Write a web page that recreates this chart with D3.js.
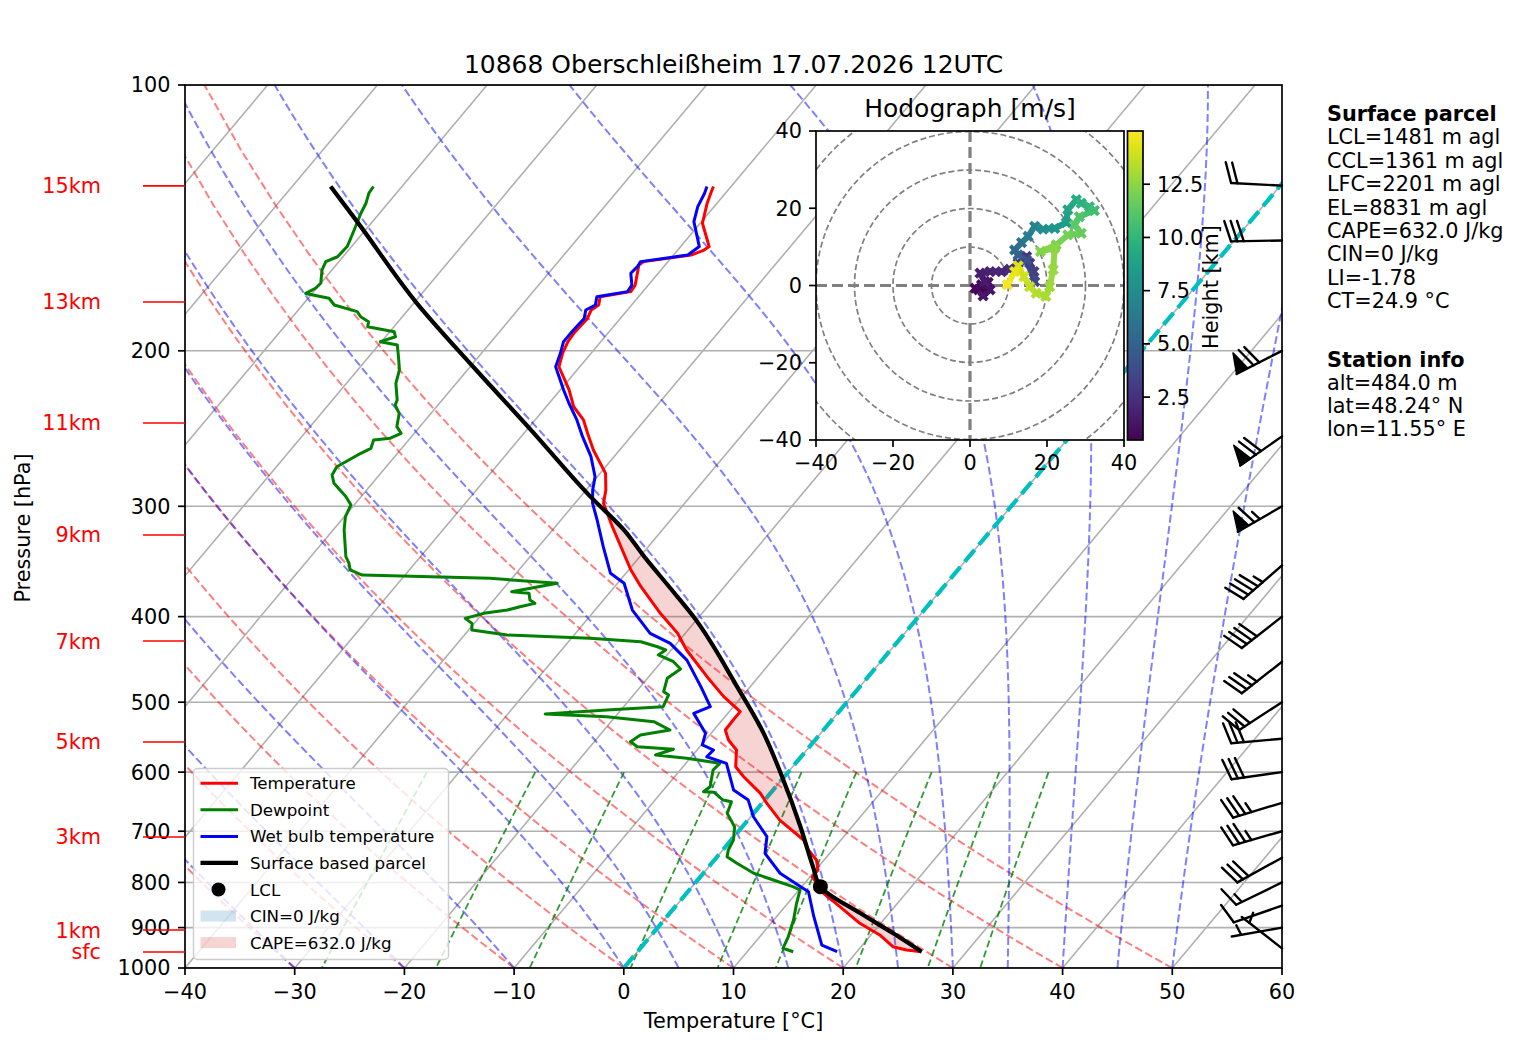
<!DOCTYPE html>
<html>
<head>
<meta charset="utf-8">
<script src="https://cdn.jsdelivr.net/npm/d3@7"></script>
<style>
  body { margin: 0; background: #fff; }
  svg { font-family: "DejaVu Sans", sans-serif; }
</style>
</head>
<body>
<svg width="1517" height="1054"></svg>
<script>
// ---- sounding 10868, levels as [pressure hPa, value degC] ----
var temperature = [
  [130.3,-51.6],[132.1,-51.4],[136.1,-50.9],[143.4,-49.8],[152.4,-47.4],[153.8,-47.6],[155.8,-48.4],
  [158.5,-52.2],[159.9,-52.4],[163.4,-51.9],[168.5,-51.2],[171.4,-51.1],[173.7,-53.5],[177.5,-53.0],
  [179.8,-53.3],[183.8,-53.0],[191.1,-53.1],[195.3,-53.0],[201.3,-52.6],[208.5,-51.9],[221.5,-49.2],
  [231.4,-47.5],[239.5,-45.6],[248.0,-44.2],[259.0,-42.4],[275.3,-39.5],[287.5,-38.2],[297.6,-37.4],
  [316.4,-34.8],[354.2,-29.8],[370.0,-27.6],[396.6,-23.8],[417.8,-20.7],[436.4,-18.6],[467.8,-14.7],
  [492.8,-11.65],[512.5,-9.0],[523.7,-9.0],[537.6,-8.95],[551.8,-7.9],[566.4,-6.4],[591.6,-5.2],
  [607.3,-3.7],[634.2,-0.9],[651.0,0.45],[679.9,2.9],[716.2,6.6],[735.1,7.8],[754.5,9.3],
  [774.4,10.2],[788.1,10.2],[823.0,12.5],[852.1,15.0],[890.0,18.1],[917.4,20.8],[945.9,22.9],
  [954.1,24.4],[958.4,25.9]
];

var dewpoint = [
  [130.3,-82.6],[132.6,-82.5],[136.1,-82.0],[139.7,-81.7],[147.2,-80.9],[152.4,-80.4],[156.5,-80.5],
  [158.5,-81.2],[162.0,-80.9],[167.7,-80.0],[169.9,-80.1],[172.2,-80.6],[174.4,-78.1],[177.5,-77.1],
  [180.6,-74.5],[183.0,-73.8],[185.4,-72.7],[187.8,-72.4],[190.3,-69.6],[192.8,-69.1],[195.3,-70.1],
  [197.0,-68.3],[203.1,-67.3],[210.2,-66.2],[217.7,-65.5],[227.4,-64.1],[230.4,-63.9],[235.4,-62.9],
  [243.7,-62.1],[248.0,-61.2],[251.2,-61.8],[252.3,-63.2],[257.9,-62.8],[262.4,-63.5],[270.6,-64.5],
  [276.5,-64.3],[282.5,-63.5],[292.5,-61.4],[298.9,-60.3],[308.2,-59.9],[319.1,-59.0],[342.1,-56.8],
  [348.1,-56.0],[354.2,-55.4],[358.9,-53.9],[362.0,-42.0],[366.7,-35.5],[374.9,-39.0],[376.4,-37.3],
  [383.1,-36.7],[386.4,-36.0],[389.8,-37.1],[393.2,-38.0],[396.6,-39.9],[401.8,-41.2],[407.1,-40.2],
  [414.3,-39.7],[419.7,-36.1],[423.3,-28.3],[427.1,-23.4],[432.7,-21.5],[436.4,-20.5],[442.1,-20.8],
  [449.9,-18.9],[458.5,-17.7],[469.8,-18.2],[486.5,-17.5],[490.7,-16.8],[505.9,-16.4],[510.3,-21.3],
  [515.6,-26.6],[519.3,-20.8],[526.1,-16.1],[537.6,-14.0],[544.7,-16.3],[554.3,-16.7],[561.5,-15.7],
  [565.3,-12.2],[573.8,-13.4],[578.8,-10.3],[586.4,-6.9],[596.8,-7.0],[623.4,-6.0],[631.6,-6.2],
  [632.5,-5.2],[645.4,-3.8],[648.3,-2.9],[668.2,-2.4],[691.9,-0.7],[716.2,0.2],[735.1,0.5],
  [748.1,0.9],[761.1,2.3],[781.1,4.6],[794.9,6.9],[808.9,9.2],[815.9,10.1],[844.7,10.8],
  [882.4,11.8],[921.5,12.6],[949.9,13.0],[958.4,14.2]
];

var wetBulb = [
  [130.3,-52.2],[132.6,-51.9],[137.3,-51.5],[142.8,-50.7],[152.4,-48.3],[155.8,-48.7],[158.5,-52.5],
  [160.6,-52.4],[163.4,-52.5],[168.5,-51.5],[171.4,-51.4],[173.7,-53.8],[177.5,-53.3],[179.8,-53.8],
  [183.8,-53.3],[191.1,-53.4],[195.3,-53.4],[201.3,-52.8],[208.5,-52.2],[221.5,-49.7],[229.3,-48.2],
  [239.5,-46.2],[250.2,-44.4],[263.6,-42.1],[277.7,-40.2],[287.5,-39.4],[297.6,-38.4],[310.9,-36.7],
  [333.3,-34.1],[357.3,-31.4],[366.7,-29.4],[393.2,-26.6],[417.8,-23.2],[428.9,-20.6],[448.0,-17.8],
  [480.1,-14.5],[505.9,-12.1],[514.8,-13.1],[542.3,-10.5],[559.0,-9.9],[566.4,-8.5],[576.4,-8.6],
  [586.4,-6.3],[628.8,-3.6],[645.4,-1.5],[674.1,0.25],[710.0,3.0],[741.5,4.1],[781.1,7.0],
  [808.9,9.9],[819.6,11.0],[874.8,13.4],[942.0,16.3],[958.4,18.2]
];

var parcel = [
  [958.4,25.9],[913.5,21.9],[867.1,17.4],[808.9,11.7],[767.9,9.5],[691.9,5.3],[607.3,-0.2],
  [542.3,-5.2],[480.1,-11.2],[400.2,-20.5],[371.5,-24.8],[342.1,-29.6],[319.1,-33.5],[292.5,-39.1],
  [245.9,-49.6],[208.9,-59.6],[176.7,-69.7],[142.8,-81.4],[130.3,-86.5]
];
var lcl = [808.9, 11.7];

// ---- wind barbs (kt, deg) ----
var barbPressure = [130,150,200,250,300,350,400,450,500,550,600,650,700,750,800,850,900,950];
var barbSpeed = [20,30,70,70,65,45,40,35,30,30,30,35,35,30,15,10,5,5];
var barbDirection = [273,269,243,235,240,229,232,232,237,265,262,253,254,241,244,251,260,308];

// ---- hodograph (km, m/s) ----
var hodoHeight = [0.48,0.6,0.75,0.9,1.05,1.2,1.35,1.5,1.65,1.85,2.05,2.25,2.5,2.75,3.0,3.3,3.6,4.2,4.8,
  5.4,6.0,6.6,7.1,7.6,8.1,8.6,9.0,9.4,9.8,10.2,10.6,11.0,11.3,11.6,11.9,12.1,12.3,12.5,12.7,12.9,
  13.1,13.3,13.6,13.9,14.2,14.5,14.8];
var hodoU = [3.4,2.2,1.3,3.0,4.7,5.2,3.4,3.9,2.6,5.2,8.2,10.3,12.5,14.7,15.5,16.6,16.8,14.7,12.5,
  11.6,13.4,15.1,16.8,19.0,22.0,25.0,25.4,27.6,28.9,31.0,32.3,28.4,27.2,28.9,25.4,22.4,18.3,22.0,21.6,20.7,
  19.7,17.2,15.5,14.0,12.5,11.6,9.7];
var hodoV = [-1.6,-1.1,-0.7,0.2,0.8,-1.1,-2.7,1.0,3.2,3.6,3.6,4.2,5.8,7.5,5.8,3.6,1.0,6.6,7.9,
  9.2,11.1,12.7,15.3,14.6,14.8,16.3,19.6,22.2,21.3,20.4,19.4,17.8,15.7,13.5,13.1,10.5,8.8,9.7,4.1,-0.3,
  -2.8,-2.0,-0.3,2.3,5.1,3.6,0.2];

// ---- labels ----
var heightLabels = ["15km","13km","11km","9km","7km","5km","3km","1km","sfc"];
var heightPressure = [130.1,176.1,241.4,323.3,426.3,554.7,710.6,905.7,959.1];
var pressureTicks = [100,200,300,400,500,600,700,800,900,1000];
var tempTicks = [-40,-30,-20,-10,0,10,20,30,40,50,60];
var hodoTicks = [-40,-20,0,20,40];
var heightTicks = [2.5,5.0,7.5,10.0,12.5];
var parcelInfo = ["LCL=1481 m agl","CCL=1361 m agl","LFC=2201 m agl","EL=8831 m agl",
  "CAPE=632.0 J/kg","CIN=0 J/kg","LI=-1.78","CT=24.9 °C"];
var stationInfo = ["alt=484.0 m","lat=48.24° N","lon=11.55° E"];
var legendLabels = ["Temperature","Dewpoint","Wet bulb temperature","Surface based parcel",
  "LCL","CIN=0 J/kg","CAPE=632.0 J/kg"];
var title = "10868 Oberschleißheim 17.07.2026 12UTC";

// reference line sets
var dryT0 = d3.range(-40, 60, 10);
var moistT0 = [-40,-30,-20,-10,0,5,10,15,20,25,30,35,40,45,50];
var mixingRatios = [0.0004,0.001,0.002,0.004,0.007,0.01,0.016,0.024,0.032];

// ---------------------------------------------------------------
var svg = d3.select("svg");
var plotL = 185, plotR = 1282, plotT = 85, plotB = 968;
var fs = 20.8;

var x = d3.scaleLinear().domain([-40, 60]).range([plotL, plotR]);
var y = d3.scaleLog().domain([1000, 100]).range([plotB, plotT]);
var skew = Math.tan(40 * Math.PI / 180);

function px(t, p) { return x(t) + skew * (plotB - y(p)); }
function fmt(v) { return (v < 0 ? "\u2212" : "") + Math.abs(v); }

var skewLine = d3.line().x(function (d) { return px(d[1], d[0]); }).y(function (d) { return y(d[0]); });

var defs = svg.append("defs");
defs.append("clipPath").attr("id", "plotClip").append("rect")
  .attr("x", plotL).attr("y", plotT).attr("width", plotR - plotL).attr("height", plotB - plotT);

var plot = svg.append("g").attr("clip-path", "url(#plotClip)");

// grid: isotherms and isobars
d3.range(-140, 61, 10).forEach(function (t) {
  plot.append("path").attr("d", skewLine([[1000, t], [100, t]]))
    .attr("stroke", "#b0b0b0").attr("stroke-width", 1.6).attr("fill", "none");
});
pressureTicks.forEach(function (p) {
  plot.append("line").attr("x1", plotL).attr("x2", plotR).attr("y1", y(p)).attr("y2", y(p))
    .attr("stroke", "#b0b0b0").attr("stroke-width", 1.6);
});

// dry adiabats
var adiabatP = d3.range(50).map(function (i) { return 1000 - i * 900 / 49; });
dryT0.forEach(function (t0) {
  var pts = adiabatP.map(function (p) { return [p, (t0 + 273.15) * Math.pow(p / 1000, 0.2857) - 273.15]; });
  plot.append("path").attr("d", skewLine(pts)).attr("fill", "none")
    .attr("stroke", "red").attr("stroke-opacity", 0.5).attr("stroke-width", 2).attr("stroke-dasharray", "8,3.5");
});

// moist adiabats
var Rd = 287.04749, Cp = 1004.6662, Lv = 2.50084e6, eps = 0.622;
function moistLapse(p, tK) {
  var es = 6.112 * Math.exp(17.67 * (tK - 273.15) / (tK - 29.65));
  var rs = eps * es / (p - es);
  return (Rd * tK + Lv * rs) / (Cp + Lv * Lv * rs * eps / (Rd * tK * tK)) / p;
}
function moistAdiabat(t0) {
  var p = 1000, tK = t0 + 273.15, dp = -5, pts = [[p, t0]];
  while (p > 100) {
    var k1 = moistLapse(p, tK),
        k2 = moistLapse(p + dp / 2, tK + dp / 2 * k1),
        k3 = moistLapse(p + dp / 2, tK + dp / 2 * k2),
        k4 = moistLapse(p + dp, tK + dp * k3);
    tK += dp * (k1 + 2 * k2 + 2 * k3 + k4) / 6;
    p += dp;
    pts.push([p, tK - 273.15]);
  }
  return pts;
}
moistT0.forEach(function (t0) {
  plot.append("path").attr("d", skewLine(moistAdiabat(t0))).attr("fill", "none")
    .attr("stroke", "blue").attr("stroke-opacity", 0.5).attr("stroke-width", 2).attr("stroke-dasharray", "8,3.5");
});

// mixing ratio lines
mixingRatios.forEach(function (w) {
  var pts = d3.range(600, 1001, 10).map(function (p) {
    var e = p * w / (eps + w), l = Math.log(e / 6.112);
    return [p, 243.5 * l / (17.67 - l)];
  });
  plot.append("path").attr("d", skewLine(pts)).attr("fill", "none")
    .attr("stroke", "green").attr("stroke-opacity", 0.8).attr("stroke-width", 1.8).attr("stroke-dasharray", "7,3.5");
});

// 0 degC isotherm
plot.append("path").attr("d", skewLine([[1000, 0], [100, 0]])).attr("fill", "none")
  .attr("stroke", "#00bfbf").attr("stroke-width", 4.2).attr("stroke-dasharray", "15.4,6.7");

// CAPE shading
function interpProfile(prof, p) {
  for (var i = 0; i < prof.length - 1; i++) {
    var a = prof[i], b = prof[i + 1];
    if ((p <= a[0] && p >= b[0]) || (p >= a[0] && p <= b[0])) {
      if (a[0] === b[0]) return b[1];
      var f = (Math.log(p) - Math.log(a[0])) / (Math.log(b[0]) - Math.log(a[0]));
      return a[1] + f * (b[1] - a[1]);
    }
  }
  return NaN;
}
var fillP = d3.range(131, 958, 1).concat(temperature.map(function (d) { return d[0]; }),
  parcel.map(function (d) { return d[0]; }))
  .filter(function (p) { return p >= 130.3 && p <= 958.4; })
  .sort(function (a, b) { return b - a; });
var capeArea = d3.area()
  .y(function (p) { return y(p); })
  .x0(function (p) { return px(interpProfile(temperature, p), p); })
  .x1(function (p) { return px(Math.max(interpProfile(temperature, p), interpProfile(parcel, p)), p); });
plot.append("path").attr("d", capeArea(fillP)).attr("fill", "#d62728").attr("fill-opacity", 0.2);

// profiles
[[temperature, "red"], [dewpoint, "green"], [wetBulb, "blue"]].forEach(function (s) {
  plot.append("path").attr("d", skewLine(s[0])).attr("fill", "none").attr("stroke", s[1])
    .attr("stroke-width", 3).attr("stroke-linejoin", "round");
});
plot.append("path").attr("d", skewLine.curve(d3.curveMonotoneY)(parcel)).attr("fill", "none")
  .attr("stroke", "black").attr("stroke-width", 4.2);
skewLine.curve(d3.curveLinear);
plot.append("circle").attr("cx", px(lcl[1], lcl[0])).attr("cy", y(lcl[0])).attr("r", 7.5).attr("fill", "black");

// wind barbs
function drawBarb(g, ax, ay, speed, dir) {
  var L = 51, sp = 0.125 * L, ht = 0.4 * L, wd = 0.25 * L;
  var r = dir * Math.PI / 180, dx = Math.sin(r), dy = -Math.cos(r), nx = -dy, ny = dx;
  function pt(t, h) { return [ax + dx * t + nx * h, ay + dy * t + ny * h]; }
  var s = Math.round(speed / 5) * 5,
      flags = Math.floor(s / 50), rem = s - flags * 50,
      full = Math.floor(rem / 10), half = (rem - full * 10) >= 5;
  var ln = d3.line();
  function seg(a, b) {
    g.append("path").attr("d", ln([a, b])).attr("stroke", "black").attr("stroke-width", 2.4)
      .attr("fill", "none").attr("stroke-linecap", "round");
  }
  seg(pt(0, 0), pt(L, 0));
  var off = L;
  for (var i = 0; i < flags; i++) {
    if (off !== L) off += sp / 2;
    g.append("path").attr("d", ln([pt(off, 0), pt(off - wd / 2, ht), pt(off - wd, 0)]) + "Z")
      .attr("fill", "black").attr("stroke", "black").attr("stroke-width", 1.5).attr("stroke-linejoin", "round");
    off -= wd + sp;
  }
  for (var j = 0; j < full; j++) {
    seg(pt(off, 0), pt(off + wd / 2, ht));
    off -= sp;
  }
  if (half) {
    if (off === L) off -= 1.5 * sp;
    seg(pt(off, 0), pt(off + wd / 4, ht / 2));
  }
}
var barbs = svg.append("g");
barbPressure.forEach(function (p, i) {
  drawBarb(barbs, plotR, y(p), barbSpeed[i], barbDirection[i]);
});

// axes frame and ticks
svg.append("rect").attr("x", plotL).attr("y", plotT).attr("width", plotR - plotL).attr("height", plotB - plotT)
  .attr("fill", "none").attr("stroke", "#000").attr("stroke-width", 1.7);
var axesG = svg.append("g").attr("font-size", fs).attr("fill", "#000");
pressureTicks.forEach(function (p) {
  axesG.append("line").attr("x1", plotL - 7).attr("x2", plotL).attr("y1", y(p)).attr("y2", y(p))
    .attr("stroke", "#000").attr("stroke-width", 1.7);
  axesG.append("text").attr("x", plotL - 14.5).attr("y", y(p)).attr("dy", "0.36em")
    .attr("text-anchor", "end").text(p);
});
tempTicks.forEach(function (t) {
  axesG.append("line").attr("x1", x(t)).attr("x2", x(t)).attr("y1", plotB).attr("y2", plotB + 7)
    .attr("stroke", "#000").attr("stroke-width", 1.7);
  axesG.append("text").attr("x", x(t)).attr("y", plotB + 31).attr("text-anchor", "middle").text(fmt(t));
});
axesG.append("text").attr("x", (plotL + plotR) / 2).attr("y", 1028).attr("text-anchor", "middle")
  .text("Temperature [°C]");
axesG.append("text").attr("transform", "translate(30,528) rotate(-90)").attr("text-anchor", "middle")
  .text("Pressure [hPa]");
svg.append("text").attr("x", (plotL + plotR) / 2).attr("y", 73).attr("text-anchor", "middle")
  .attr("font-size", 25).text(title);

// height labels
heightLabels.forEach(function (lab, i) {
  var yy = y(heightPressure[i]);
  svg.append("line").attr("x1", 143).attr("x2", plotL).attr("y1", yy).attr("y2", yy)
    .attr("stroke", "red").attr("stroke-width", 1.6);
  svg.append("text").attr("x", 101).attr("y", yy).attr("dy", "0.36em").attr("text-anchor", "end")
    .attr("font-size", fs).attr("fill", "red").text(lab);
});

// legend
var lg = svg.append("g").attr("font-size", 16.7);
lg.append("rect").attr("x", 193.5).attr("y", 768.5).attr("width", 255).attr("height", 191).attr("rx", 4)
  .attr("fill", "white").attr("fill-opacity", 0.8).attr("stroke", "#cccccc").attr("stroke-width", 1.4);
var legendStyle = [
  { type: "line", color: "red", w: 3 }, { type: "line", color: "green", w: 3 },
  { type: "line", color: "blue", w: 3 }, { type: "line", color: "black", w: 4.2 },
  { type: "dot" }, { type: "patch", color: "#1f77b4" }, { type: "patch", color: "#d62728" }
];
legendLabels.forEach(function (lab, i) {
  var yy = 783.3 + i * 26.55, st = legendStyle[i];
  if (st.type === "line") {
    lg.append("line").attr("x1", 200.5).attr("x2", 238).attr("y1", yy).attr("y2", yy)
      .attr("stroke", st.color).attr("stroke-width", st.w);
  } else if (st.type === "dot") {
    lg.append("circle").attr("cx", 218.5).attr("cy", yy).attr("r", 7).attr("fill", "black");
  } else {
    lg.append("rect").attr("x", 200.5).attr("y", yy - 5.5).attr("width", 35.5).attr("height", 11)
      .attr("fill", st.color).attr("fill-opacity", 0.2);
  }
  lg.append("text").attr("x", 250).attr("y", yy).attr("dy", "0.36em").text(lab);
});

// info text
var info = svg.append("g").attr("font-size", fs);
info.append("text").attr("x", 1327).attr("y", 120.7).attr("font-weight", "bold").text("Surface parcel");
parcelInfo.forEach(function (t, i) {
  info.append("text").attr("x", 1327).attr("y", 144.2 + i * 23.45).text(t);
});
info.append("text").attr("x", 1327).attr("y", 366.7).attr("font-weight", "bold").text("Station info");
stationInfo.forEach(function (t, i) {
  info.append("text").attr("x", 1327).attr("y", 390 + i * 23.1).text(t);
});

// ---- hodograph inset ----
var hL = 816, hR = 1124, hT = 131, hB = 440;
var hx = d3.scaleLinear().domain([-40, 40]).range([hL, hR]);
var hy = d3.scaleLinear().domain([-40, 40]).range([hB, hT]);
var hColor = d3.scaleSequential(d3.interpolateViridis).domain([0.484, 15.0]);

defs.append("clipPath").attr("id", "hodoClip").append("rect")
  .attr("x", hL).attr("y", hT).attr("width", hR - hL).attr("height", hB - hT);
var hodo = svg.append("g");
hodo.append("rect").attr("x", hL).attr("y", hT).attr("width", hR - hL).attr("height", hB - hT).attr("fill", "white");
var hodoIn = hodo.append("g").attr("clip-path", "url(#hodoClip)");
[10, 20, 30, 40, 50].forEach(function (r) {
  hodoIn.append("circle").attr("cx", hx(0)).attr("cy", hy(0)).attr("r", hx(r) - hx(0))
    .attr("fill", "none").attr("stroke", "grey").attr("stroke-width", 1.7).attr("stroke-dasharray", "6,3");
});
hodoIn.append("line").attr("x1", hL).attr("x2", hR).attr("y1", hy(0)).attr("y2", hy(0))
  .attr("stroke", "grey").attr("stroke-width", 3.2).attr("stroke-dasharray", "11,5");
hodoIn.append("line").attr("x1", hx(0)).attr("x2", hx(0)).attr("y1", hT).attr("y2", hB)
  .attr("stroke", "grey").attr("stroke-width", 3.2).attr("stroke-dasharray", "11,5");

var hodoPts = hodoHeight.map(function (h, i) { return [h, hodoU[i], hodoV[i]]; });
for (var i = 0; i < hodoPts.length - 1; i++) {
  var a = hodoPts[i], b = hodoPts[i + 1];
  hodoIn.append("line").attr("x1", hx(a[1])).attr("y1", hy(a[2])).attr("x2", hx(b[1])).attr("y2", hy(b[2]))
    .attr("stroke", hColor((a[0] + b[0]) / 2)).attr("stroke-width", 6).attr("stroke-linecap", "round");
}
hodoIn.selectAll("path.mk").data(hodoPts).enter().append("path").attr("class", "mk")
  .attr("d", d3.symbol().type(d3.symbolCross).size(80))
  .attr("transform", function (d) { return "translate(" + hx(d[1]) + "," + hy(d[2]) + ") rotate(45)"; })
  .attr("fill", function (d) { return hColor(d[0]); });

hodo.append("rect").attr("x", hL).attr("y", hT).attr("width", hR - hL).attr("height", hB - hT)
  .attr("fill", "none").attr("stroke", "#000").attr("stroke-width", 1.7);
var hAx = hodo.append("g").attr("font-size", fs);
hodoTicks.forEach(function (t) {
  hAx.append("line").attr("x1", hL - 7).attr("x2", hL).attr("y1", hy(t)).attr("y2", hy(t)).attr("stroke", "#000").attr("stroke-width", 1.7);
  hAx.append("text").attr("x", hL - 14).attr("y", hy(t)).attr("dy", "0.36em").attr("text-anchor", "end").text(fmt(t));
  hAx.append("line").attr("x1", hx(t)).attr("x2", hx(t)).attr("y1", hB).attr("y2", hB + 7).attr("stroke", "#000").attr("stroke-width", 1.7);
  hAx.append("text").attr("x", hx(t)).attr("y", hB + 30).attr("text-anchor", "middle").text(fmt(t));
});
hodo.append("text").attr("x", (hL + hR) / 2).attr("y", 117).attr("text-anchor", "middle")
  .attr("font-size", 25).text("Hodograph [m/s]");

// colorbar
var cbL = 1127.5, cbW = 15.5;
var cb = d3.scaleLinear().domain([0.484, 15.0]).range([hB, hT]);
var grad = defs.append("linearGradient").attr("id", "viridisGrad")
  .attr("x1", 0).attr("x2", 0).attr("y1", 1).attr("y2", 0);
d3.range(0, 1.001, 0.05).forEach(function (f) {
  grad.append("stop").attr("offset", f).attr("stop-color", d3.interpolateViridis(f));
});
hodo.append("rect").attr("x", cbL).attr("y", hT).attr("width", cbW).attr("height", hB - hT)
  .attr("fill", "url(#viridisGrad)").attr("stroke", "#000").attr("stroke-width", 1.7);
heightTicks.forEach(function (t) {
  hodo.append("line").attr("x1", cbL + cbW).attr("x2", cbL + cbW + 7).attr("y1", cb(t)).attr("y2", cb(t))
    .attr("stroke", "#000").attr("stroke-width", 1.7);
  hodo.append("text").attr("x", cbL + cbW + 14).attr("y", cb(t)).attr("dy", "0.36em")
    .attr("font-size", fs).text(t.toFixed(1));
});
hodo.append("text").attr("transform", "translate(1218,287) rotate(-90)").attr("text-anchor", "middle")
  .attr("font-size", fs).text("Height [km]");
</script>
</body>
</html>
